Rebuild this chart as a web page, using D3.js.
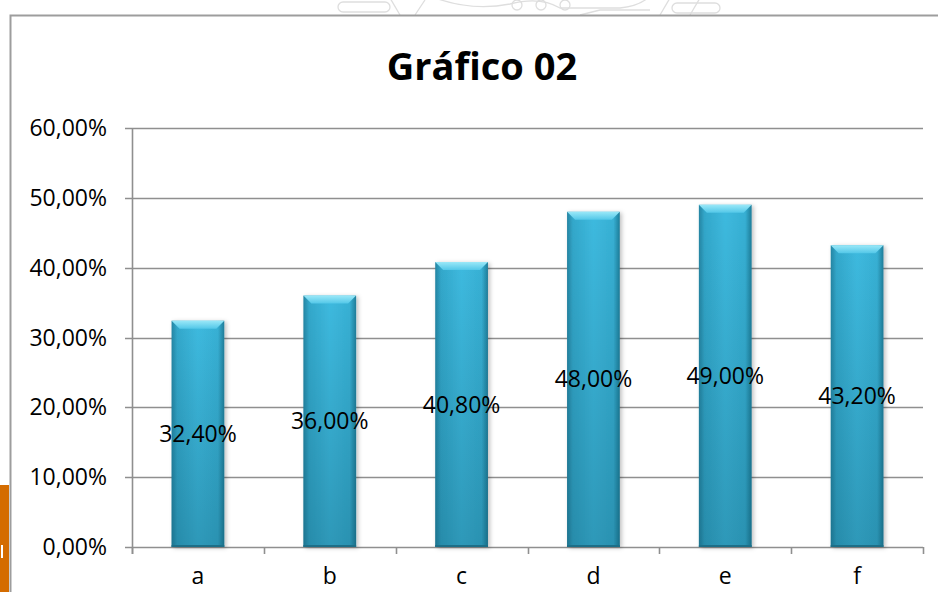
<!DOCTYPE html>
<html>
<head>
<meta charset="utf-8">
<script src="https://cdn.jsdelivr.net/npm/d3@7"></script>
<style>
  body { margin: 0; background: #fff; }
  svg { display: block; font-family: "Open Sans", "Liberation Sans", Arial, sans-serif; }
</style>
</head>
<body>
<svg id="chart" width="938" height="592"></svg>
<script>
// chart data
var categories = ["a", "b", "c", "d", "e", "f"];
var values = [32.4, 36.0, 40.8, 48.0, 49.0, 43.2];
var yTicks = [0, 10, 20, 30, 40, 50, 60];
var title = "Gráfico 02";

var svg = d3.select("#chart");
var W = 938, H = 592;
var plot = { left: 132, right: 923, top: 128, bottom: 547 };

var fmt = function (v) { return v.toFixed(2).replace(".", ",") + "%"; };

var x = d3.scaleBand()
    .domain(categories)
    .range([plot.left, plot.right])
    .paddingInner(0.6)
    .paddingOuter(0.3);

var y = d3.scaleLinear()
    .domain([0, 60])
    .range([plot.bottom, plot.top]);

// gradients for the bevelled bars
var defs = svg.append("defs");
var hg = defs.append("linearGradient").attr("id", "barH").attr("x1", 0).attr("x2", 1).attr("y1", 0).attr("y2", 0);
hg.append("stop").attr("offset", "0%").attr("stop-color", "#2585a3");
hg.append("stop").attr("offset", "11%").attr("stop-color", "#33a8cb");
hg.append("stop").attr("offset", "50%").attr("stop-color", "#3ebadf");
hg.append("stop").attr("offset", "88%").attr("stop-color", "#37b0d4");
hg.append("stop").attr("offset", "100%").attr("stop-color", "#1f7d99");

var vg = defs.append("linearGradient").attr("id", "barV").attr("x1", 0).attr("x2", 0).attr("y1", 0).attr("y2", 1);
vg.append("stop").attr("offset", "0%").attr("stop-color", "#0a4a5e").attr("stop-opacity", 0);
vg.append("stop").attr("offset", "100%").attr("stop-color", "#0a4a5e").attr("stop-opacity", 0.3);

var tg = defs.append("linearGradient").attr("id", "barTop").attr("x1", 0).attr("x2", 0).attr("y1", 0).attr("y2", 1);
tg.append("stop").attr("offset", "0%").attr("stop-color", "#9ae8f8");
tg.append("stop").attr("offset", "100%").attr("stop-color", "#52c7e8");

defs.append("filter").attr("id", "shadow").attr("x", "-20%").attr("y", "-5%").attr("width", "150%").attr("height", "115%")
  .append("feDropShadow").attr("dx", 2).attr("dy", 1).attr("stdDeviation", 2)
  .attr("flood-color", "#000").attr("flood-opacity", 0.25);

// faint watermark at the top edge
var wm = svg.append("g").attr("fill", "none").attr("stroke", "#dedede").attr("stroke-width", 1.3);
wm.append("rect").attr("x", 338).attr("y", 2).attr("width", 52).attr("height", 10).attr("rx", 5);
wm.append("path").attr("d", "M390,-2 L400,15 M415,15 L425,0");
wm.append("path").attr("d", "M430,-4 Q470,12 510,4 Q540,-4 560,8 L620,8 Q640,6 650,-4");
wm.append("circle").attr("cx", 517).attr("cy", 5).attr("r", 5);
wm.append("circle").attr("cx", 541).attr("cy", 5).attr("r", 5);
wm.append("circle").attr("cx", 565).attr("cy", 5).attr("r", 5);
wm.append("path").attr("d", "M580,15 L600,10 L650,10 M670,-2 L660,15 M700,-2 L690,15");
wm.append("rect").attr("x", 672).attr("y", 3).attr("width", 48).attr("height", 10).attr("rx", 5);

// chart frame
svg.append("path")
    .attr("d", "M10.5," + H + " L10.5,15.5 L" + W + ",15.5")
    .attr("fill", "none").attr("stroke", "#9d9d9d").attr("stroke-width", 2);

// orange tab on the left edge
svg.append("rect").attr("x", 0).attr("y", 485).attr("width", 9).attr("height", H - 485).attr("fill", "#d46c00");
svg.append("rect").attr("x", 1).attr("y", 545).attr("width", 2).attr("height", 13).attr("fill", "#fff");

// title
svg.append("text")
    .attr("x", 482).attr("y", 80)
    .attr("text-anchor", "middle")
    .attr("font-size", 38).attr("font-weight", "bold")
    .attr("fill", "#000")
    .text(title);

// gridlines
svg.append("g").selectAll("line").data(yTicks).enter().append("line")
    .attr("x1", plot.left - 7).attr("x2", plot.right)
    .attr("y1", function (d) { return Math.round(y(d)) + 0.5; })
    .attr("y2", function (d) { return Math.round(y(d)) + 0.5; })
    .attr("stroke", "#8f8f8f").attr("stroke-width", 1.6);

// y axis line
svg.append("line")
    .attr("x1", plot.left + 0.5).attr("x2", plot.left + 0.5)
    .attr("y1", plot.top).attr("y2", plot.bottom + 7)
    .attr("stroke", "#8f8f8f").attr("stroke-width", 1.6);

// y labels
svg.append("g").selectAll("text").data(yTicks).enter().append("text")
    .attr("x", 107)
    .attr("y", function (d) { return y(d) + 8; })
    .attr("text-anchor", "end")
    .attr("font-size", 23).attr("fill", "#000")
    .text(fmt);

// category ticks at the band boundaries
var bounds = categories.map(function (c) { return x(c) - x.step() * x.paddingInner() / 2; });
bounds.push(plot.right);
svg.append("g").selectAll("line").data(bounds).enter().append("line")
    .attr("x1", function (d) { return Math.round(d) + 0.5; })
    .attr("x2", function (d) { return Math.round(d) + 0.5; })
    .attr("y1", plot.bottom).attr("y2", plot.bottom + 7)
    .attr("stroke", "#8f8f8f").attr("stroke-width", 1.6);

// category labels
svg.append("g").selectAll("text").data(categories).enter().append("text")
    .attr("x", function (d) { return x(d) + x.bandwidth() / 2; })
    .attr("y", 584)
    .attr("text-anchor", "middle")
    .attr("font-size", 23).attr("fill", "#000")
    .text(function (d) { return d; });

// bars
var bw = x.bandwidth();
var bev = 8;
var bars = svg.append("g").selectAll("g").data(values).enter().append("g");

bars.append("rect")
    .attr("x", function (d, i) { return x(categories[i]); })
    .attr("y", function (d) { return y(d); })
    .attr("width", bw)
    .attr("height", function (d) { return y(0) - y(d); })
    .attr("fill", "url(#barH)")
    .attr("filter", "url(#shadow)");

bars.append("rect")
    .attr("x", function (d, i) { return x(categories[i]); })
    .attr("y", function (d) { return y(d); })
    .attr("width", bw)
    .attr("height", function (d) { return y(0) - y(d); })
    .attr("fill", "url(#barV)");

// top bevel
bars.append("path")
    .attr("d", function (d, i) {
        var x0 = x(categories[i]), x1 = x0 + bw, t = y(d);
        return "M" + x0 + "," + t + " L" + x1 + "," + t +
               " L" + (x1 - bev) + "," + (t + bev) + " L" + (x0 + bev) + "," + (t + bev) + "Z";
    })
    .attr("fill", "url(#barTop)");

// bottom edge
bars.append("rect")
    .attr("x", function (d, i) { return x(categories[i]); })
    .attr("y", y(0) - 2)
    .attr("width", bw).attr("height", 2)
    .attr("fill", "#1d6f88");

// value labels at mid-height
svg.append("g").selectAll("text").data(values).enter().append("text")
    .attr("x", function (d, i) { return x(categories[i]) + bw / 2; })
    .attr("y", function (d) { return y(d / 2) + 8; })
    .attr("text-anchor", "middle")
    .attr("font-size", 23).attr("fill", "#000")
    .text(fmt);
</script>
</body>
</html>
